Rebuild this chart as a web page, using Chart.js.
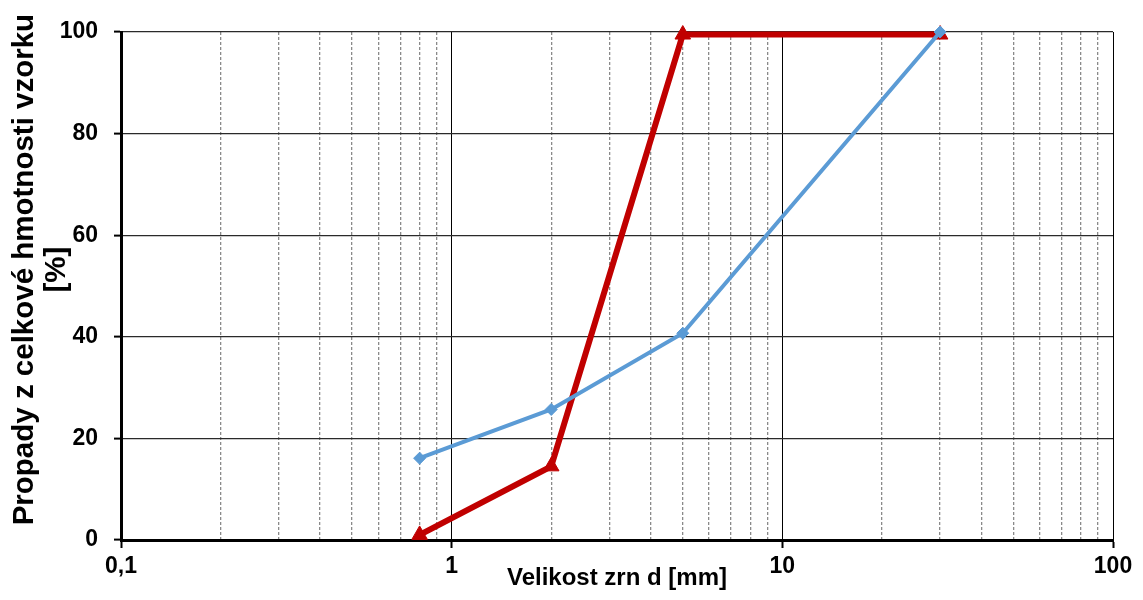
<!DOCTYPE html>
<html>
<head>
<meta charset="utf-8">
<script src="https://cdn.jsdelivr.net/npm/chart.js@4"></script>
<style>
  html, body { margin: 0; padding: 0; background: #fff; }
  #wrap { width: 1143px; height: 600px; }
</style>
</head>
<body>
<div id="wrap"><canvas id="sitoveChart"></canvas></div>
<script>
// velikost zrn [mm]
const grainSizes = [0.8, 2, 5, 30];
// propady [%]
const redPassing = [1.0, 14.5, 99.5, 99.5];
const bluePassing = [16.1, 25.7, 40.7, 100];

// hodnoty pro mrizku osy x
const xTickValues = [0.1, 0.2, 0.3, 0.4, 0.5, 0.6, 0.7, 0.8, 0.9,
  1, 2, 3, 4, 5, 6, 7, 8, 9,
  10, 20, 30, 40, 50, 60, 70, 80, 90, 100];
const xTickLabels = { 0.1: '0,1', 1: '1', 10: '10', 100: '100' };
const yTickValues = [0, 20, 40, 60, 80, 100];

const tickFont = { family: 'Liberation Sans, Arial, sans-serif', size: 23, weight: 'bold' };

function isDecade(v) {
  const l = Math.log10(v);
  return Math.abs(l - Math.round(l)) < 1e-9;
}

function points(ys) {
  return grainSizes.map((x, i) => ({ x: x, y: ys[i] }));
}

const ctx = document.getElementById('sitoveChart').getContext('2d');

const chart = new Chart(ctx, {
  type: 'line',
  data: {
    datasets: [
      {
        label: 'modra',
        data: points(bluePassing),
        borderColor: '#5B9BD5',
        backgroundColor: '#5B9BD5',
        borderWidth: 4,
        pointStyle: 'rectRot',
        pointRadius: 6,
        pointBorderWidth: 1,
        tension: 0,
        clip: false
      },
      {
        label: 'cervena',
        data: points(redPassing),
        borderColor: '#C00000',
        backgroundColor: '#C00000',
        borderWidth: 6,
        pointStyle: 'triangle',
        pointRadius: 9,
        pointBorderWidth: 1,
        tension: 0,
        clip: false
      }
    ]
  },
  options: {
    responsive: true,
    maintainAspectRatio: false,
    animation: false,
    layout: { padding: { left: 0, top: 32, right: 30, bottom: 0 } },
    plugins: {
      legend: { display: false },
      tooltip: { enabled: false }
    },
    scales: {
      x: {
        type: 'logarithmic',
        min: 0.1,
        max: 100,
        afterBuildTicks: (scale) => {
          scale.ticks = xTickValues.map(v => ({ value: v }));
        },
        afterFit: (scale) => { scale.height = 60; },
        ticks: {
          autoSkip: false,
          maxRotation: 0,
          padding: 5,
          color: '#000',
          font: tickFont,
          callback: (v) => xTickLabels[v] || ''
        },
        grid: {
          color: (c) => (c.tick && isDecade(c.tick.value)) ? '#000' : '#8a8a8a',
          lineWidth: (c) => (c.tick && isDecade(c.tick.value)) ? 1 : 1.3,
          tickColor: (c) => (c.tick && isDecade(c.tick.value)) ? '#000' : 'rgba(0,0,0,0)',
          tickLength: 8,
          tickWidth: 2
        },
        border: {
          color: '#000',
          width: 3,
          dash: (c) => (c.tick && !isDecade(c.tick.value)) ? [3, 2] : []
        },
        title: {
          display: true,
          text: 'Velikost zrn d [mm]',
          color: '#000',
          font: { family: 'Liberation Sans, Arial, sans-serif', size: 24, weight: 'bold', lineHeight: 1.2 },
          padding: { top: 0, bottom: 7 }
        }
      },
      y: {
        min: 0,
        max: 100,
        afterBuildTicks: (scale) => {
          scale.ticks = yTickValues.map(v => ({ value: v }));
        },
        afterFit: (scale) => { scale.width = 121; },
        ticks: {
          padding: 16,
          color: '#000',
          font: tickFont
        },
        grid: {
          color: '#2a2a2a',
          lineWidth: 1.2,
          tickColor: '#000',
          tickLength: 7,
          tickWidth: 2
        },
        border: { color: '#000', width: 3 },
        title: {
          display: true,
          // leading spaces lift the rotated title a bit above the axis middle
          text: ['    Propady z celkové hmotnosti vzorku', '    [%]'],
          color: '#000',
          font: { family: 'Liberation Sans, Arial, sans-serif', size: 29.5, weight: 'bold', lineHeight: 1.085 },
          padding: { top: 9, bottom: 0 }
        }
      }
    }
  }
});
</script>
</body>
</html>
